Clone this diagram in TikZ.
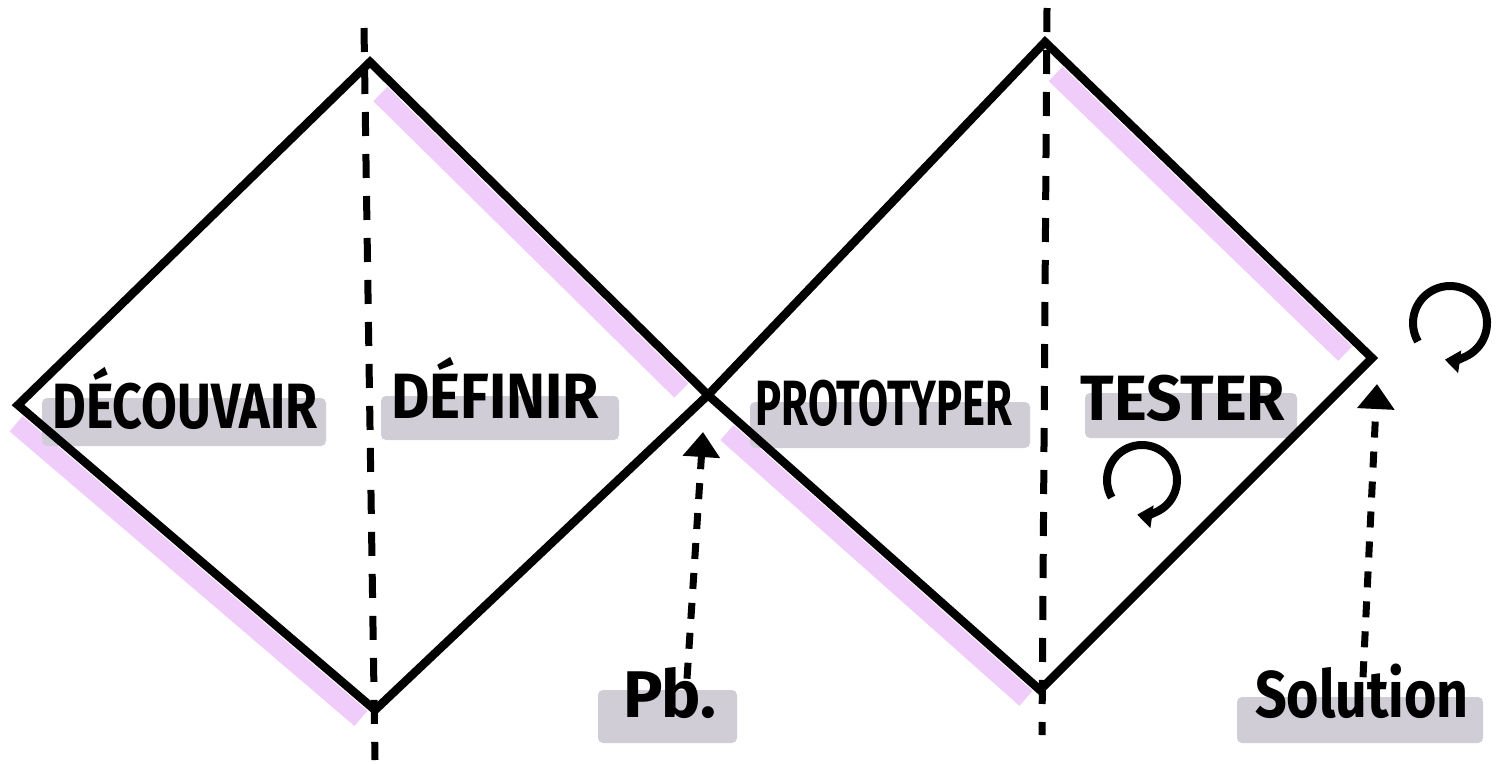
\documentclass[tikz,border=0pt]{standalone}
\usepackage{fontspec}
\setmainfont{Fira Sans}
\usepackage{graphicx}
\usetikzlibrary{arrows.meta}
\definecolor{hlpink}{RGB}{240,204,250}
\definecolor{hlgrey}{RGB}{208,205,214}
\tikzset{
  edge/.style={line width=8.5pt, line cap=round, line join=miter},
  pinkband/.style={line width=20pt, hlpink, line cap=butt, transform canvas={xshift=-11pt, yshift=-11pt}},
  axisline/.style={line width=7pt, dash pattern=on 24pt off 18pt},
  dasharrow/.style={line width=7pt, dash pattern=on 16pt off 14pt, -{Triangle[width=36pt,length=25pt]}},
  cyc/.style={line width=8pt, -{Triangle[width=22pt,length=15pt]}},
  band/.style={fill=hlgrey, rounded corners=5pt},
  lbl/.style={inner sep=0pt, anchor=base, font=\bfseries\fontsize{64}{64}\selectfont},
}
\newcommand{\sx}[2]{\scalebox{#1}[1]{#2}}
\begin{document}
\begin{tikzpicture}[x=1pt,y=-1pt]
\useasboundingbox (0,0) rectangle (1498,763);
% vertices
\coordinate (L)  at (18,405);
\coordinate (T1) at (370,62);
\coordinate (X)  at (708,395);
\coordinate (B1) at (375,710);
\coordinate (T2) at (1045,42);
\coordinate (R)  at (1372,358);
\coordinate (B2) at (1040,690);
% axis ends
\coordinate (a1t) at (364,28);
\coordinate (a1b) at (375,760);
\coordinate (a2t) at (1047,8);
\coordinate (a2b) at (1042,735);
% pink highlights
\draw[pinkband, shorten <=30pt, shorten >=22pt] (T1) -- (X);
\draw[pinkband, shorten <=12pt, shorten >=4pt] (L) -- (B1);
\draw[pinkband, shorten <=30pt, shorten >=22pt] (T2) -- (R);
\draw[pinkband, shorten <=40pt, shorten >=4pt] (X) -- (B2);
% grey label bands
\fill[band] (42,398) rectangle (326,446);
\fill[band] (381,396) rectangle (619,440);
\fill[band] (750,402) rectangle (1030,448);
\fill[band] (1085,393) rectangle (1297,438);
\fill[band] (598,690) rectangle (737,743);
\fill[band] (1237,697) rectangle (1483,743);
% axes
\draw[axisline] (a1t) -- (a1b);
\draw[axisline] (a2t) -- (a2b);
% diamonds
\draw[edge] (L) -- (T1) -- (X) -- (B1) -- cycle;
\draw[edge] (X) -- (T2) -- (R) -- (B2) -- cycle;
% labels
\node[lbl] (decouv) at (185,428) {\sx{0.81}{DÉCOUVAIR}};
\node[lbl] (defin) at (495,418) {\sx{0.92}{DÉFINIR}};
\node[lbl] (proto) at (884,425) {\sx{0.68}{PROTOTYPER}};
\node[lbl] (tester) at (1183,420) {\sx{0.97}{TESTER}};
\node[lbl, font=\bfseries\fontsize{66}{66}\selectfont] (pb) at (670,717) {Pb.};
\node[lbl, font=\bfseries\fontsize{66}{66}\selectfont] (sol) at (1362,717) {\sx{0.84}{Solution}};
% arrow targets
\coordinate (pbtip) at (703,432);
\coordinate (soltip) at (1377,384);
\draw[dasharrow] ([xshift=17pt, yshift=-12pt]pb.north) -- (pbtip);
\draw[dasharrow] ([xshift=1pt, yshift=-14pt]sol.north) -- (soltip);
% loops
\coordinate (loop1) at (1450,323);
\coordinate (loop2) at (1142,480);
\draw[cyc] (loop1) ++(150:37) arc[start angle=150, end angle=458, radius=37];
\draw[cyc] (loop2) ++(150:35) arc[start angle=150, end angle=458, radius=35];
\end{tikzpicture}
\end{document}
